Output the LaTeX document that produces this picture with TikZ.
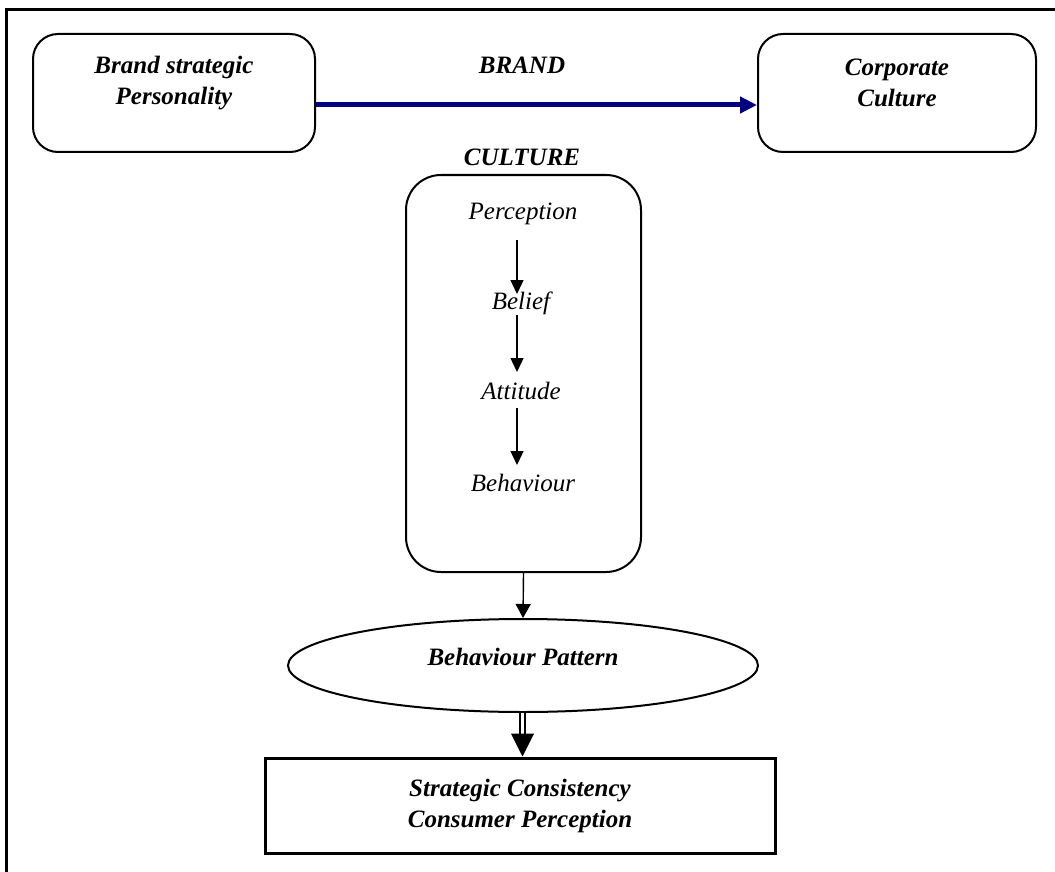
\documentclass[tikz,border=0pt]{standalone}
\usepackage{fontspec}
\setmainfont{Liberation Serif}
\usetikzlibrary{arrows.meta,shapes.geometric}
\definecolor{linkblue}{RGB}{0,0,128}
\newcommand{\liftlines}[2]{\raisebox{#1}[0pt][0pt]{\begin{tabular}{@{}c@{}}#2\end{tabular}}}
\begin{document}
\begin{tikzpicture}[x=1pt,y=-1pt,
  every node/.style={font=\fontsize{25}{31}\selectfont\bfseries\itshape, align=center},
  roundbox/.style={draw, line width=2pt, rounded corners=25pt, inner sep=0pt},
  item/.style={font=\fontsize{25}{30}\selectfont\itshape, inner sep=0pt},
  flow/.style={line width=1.4pt, -{Triangle[width=13pt,length=14pt]}},
]
\useasboundingbox (0,0) rectangle (1055,872);
% page frame
\draw[line width=3pt] (6.5,872) -- (6.5,9.5) -- (1055,9.5);

% top row
\node[roundbox, minimum width=282pt, minimum height=118pt] (bsp) at (174,93)
  {\liftlines{4pt}{Brand strategic\\Personality}};
\node[roundbox, minimum width=278pt, minimum height=118pt] (cc) at (897,93)
  {\liftlines{2pt}{Corporate\\Culture}};
\node (brand) at (522,65) {BRAND};
\node (culture) at (522,157) {CULTURE};
\draw[linkblue, line width=5pt, -{Triangle[width=16pt,length=17pt]}] ([yshift=-12pt]bsp.east) -- ([yshift=-12pt]cc.west);

% culture chain
\node[roundbox, rounded corners=35pt, minimum width=235pt, minimum height=397pt] (cbox) at (523.5,373.5) {};
\node[item] (per) at (523,214) {Perception};
\node[item] (bel) at (521,303) {Belief};
\node[item] (att) at (521,391) {Attitude};
\node[item] (beh) at (523,483) {Behaviour};
\coordinate (a1s) at (517,240); \coordinate (a1e) at (517,294);
\coordinate (a2s) at (517,315); \coordinate (a2e) at (517,372);
\coordinate (a3s) at (517,408); \coordinate (a3e) at (517,465);
\draw[flow] (a1s) -- (a1e);
\draw[flow] (a2s) -- (a2e);
\draw[flow] (a3s) -- (a3e);

% behaviour pattern
\node[draw, ellipse, line width=2pt, inner sep=0pt, minimum width=470pt, minimum height=93pt] (bp) at (523,665.5)
  {\raisebox{0pt}[0pt][0pt]{Behaviour Pattern}};
\draw[line width=1.4pt, -{Triangle[width=15pt,length=14pt]}] (cbox.south) -- (bp.north);

% outcome
\node[draw, line width=3pt, inner sep=0pt, minimum width=510pt, minimum height=95pt] (sc) at (520,805.5)
  {Strategic Consistency\\Consumer Perception};
\draw[double, double distance=3.2pt, line width=1.6pt, shorten >=20pt] ([xshift=-0.5pt]bp.south) -- ([xshift=2.5pt]sc.north);
\draw[line width=1pt, shorten <=30pt, -{Triangle[width=23pt,length=23pt]}] ([xshift=-0.5pt]bp.south) -- ([xshift=2.5pt]sc.north);
\end{tikzpicture}
\end{document}
